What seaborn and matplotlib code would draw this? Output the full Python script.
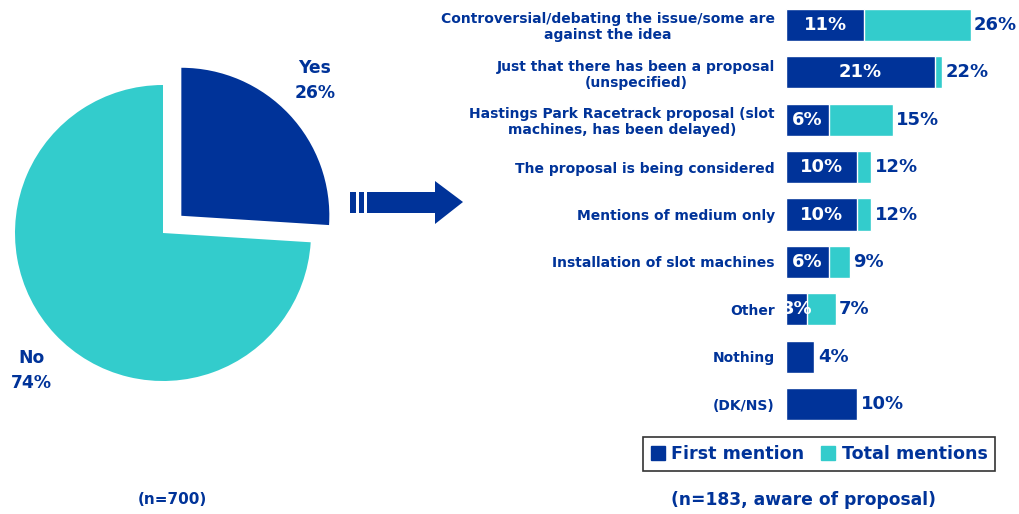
import matplotlib
matplotlib.use("Agg")
import matplotlib.pyplot as plt
from matplotlib.patches import Polygon, Rectangle, Patch
import seaborn as sns
import pandas as pd

# ---- data ----
pie_labels = ["Yes", "No"]
pie_values = [26, 74]

categories = [
    "Controversial/debating the issue/some are\nagainst the idea",
    "Just that there has been a proposal\n(unspecified)",
    "Hastings Park Racetrack proposal (slot\nmachines, has been delayed)",
    "The proposal is being considered",
    "Mentions of medium only",
    "Installation of slot machines",
    "Other",
    "Nothing",
    "(DK/NS)",
]
first_mention = [11, 21, 6, 10, 10, 6, 3, 4, 10]
total_mentions = [26, 22, 15, 12, 12, 9, 7, 4, 10]

DARK = "#003399"
CYAN = "#33CCCC"

sns.set_theme(style="white")
plt.rcParams["font.family"] = ["DejaVu Sans"]
plt.rcParams["font.weight"] = "bold"

W, H = 1020, 514
fig = plt.figure(figsize=(W / 100, H / 100), dpi=100)


def fx(x):
    return x / W


def fy(y):
    return 1 - y / H


# ---- pie ----
cx, cy, r = 163, 233, 148
half = 1.3 * r
pax = fig.add_axes([fx(cx - half), fy(cy + half), 2 * half / W, 2 * half / H])
pax.pie(pie_values, colors=[DARK, CYAN], startangle=90, counterclock=False,
        explode=[0.17, 0], wedgeprops=dict(linewidth=0))
pax.set_xlim(-1.3, 1.3)
pax.set_ylim(-1.3, 1.3)
pax.set_aspect("equal")
pax.axis("off")
pax.text(1.025, 1.03, f"{pie_labels[0]}\n{pie_values[0]}%", ha="center", va="center",
         color=DARK, fontsize=12.3, fontweight="bold", linespacing=1.55,
         multialignment="center")
pax.text(-0.89, -0.93, f"{pie_labels[1]}\n{pie_values[1]}%", ha="center", va="center",
         color=DARK, fontsize=12.3, fontweight="bold", linespacing=1.55,
         multialignment="center")

# ---- arrow ----
for x0, x1 in [(350, 356), (359, 364)]:
    fig.patches.append(Rectangle((fx(x0), fy(213)), (x1 - x0) / W, 21 / H,
                                 transform=fig.transFigure, color=DARK, lw=0))
arrow_pts = [(367, 192), (435, 192), (435, 181), (463, 202), (435, 224), (435, 213), (367, 213)]
fig.patches.append(Polygon([(fx(x), fy(y)) for x, y in arrow_pts], closed=True,
                           transform=fig.transFigure, color=DARK, lw=0))

# ---- bars ----
top, bottom = 1.3, 427.7
left = 786
xmax = 32
px_per = 7.1
bax = fig.add_axes([fx(left), fy(bottom), xmax * px_per / W, (bottom - top) / H])
df = pd.DataFrame({"cat": categories, "first": first_mention, "total": total_mentions})
sns.barplot(data=df, x="total", y="cat", color=CYAN, saturation=1, width=0.68,
            orient="h", ax=bax)
sns.barplot(data=df, x="first", y="cat", color=DARK, saturation=1, width=0.68,
            orient="h", ax=bax)
bax.set_xlim(0, xmax)
bax.set_ylim(len(categories) - 0.5, -0.5)
bax.set_xlabel("")
bax.set_ylabel("")
bax.set_xticks([])
sns.despine(ax=bax, left=True, bottom=True)
bax.tick_params(axis="y", length=0, pad=8)
for lab in bax.get_yticklabels():
    lab.set_fontsize(10)
    lab.set_fontweight("bold")
    lab.set_color(DARK)
    lab.set_multialignment("center")
    lab.set_linespacing(1.15)

for i, (f, t) in enumerate(zip(first_mention, total_mentions)):
    if f != t:
        bax.text(f / 2, i, f"{f}%", ha="center", va="center", color="white",
                 fontsize=13, fontweight="bold")
    bax.annotate(f"{t}%", xy=(t, i), xytext=(2.5, 0), textcoords="offset points",
                 ha="left", va="center", color=DARK, fontsize=13, fontweight="bold")

handles = [Patch(color=DARK, label="First mention"), Patch(color=CYAN, label="Total mentions")]
leg = fig.legend(handles=handles, loc="center", bbox_to_anchor=(fx(819), fy(454)),
                 ncol=2, frameon=True, fancybox=False, prop=dict(size=12.6, weight="bold"),
                 handlelength=0.8, handleheight=0.8, handletextpad=0.35,
                 columnspacing=1.0, borderpad=0.45, borderaxespad=0)
leg.get_frame().set_edgecolor("black")
leg.get_frame().set_linewidth(1.2)
for t in leg.get_texts():
    t.set_color(DARK)

fig.text(fx(172), fy(500), "(n=700)", ha="center", va="center", color=DARK,
         fontsize=11, fontweight="bold")
fig.text(fx(804), fy(500), "(n=183, aware of proposal)", ha="center", va="center",
         color=DARK, fontsize=12.3, fontweight="bold")

fig.savefig("out.png", dpi=100)
